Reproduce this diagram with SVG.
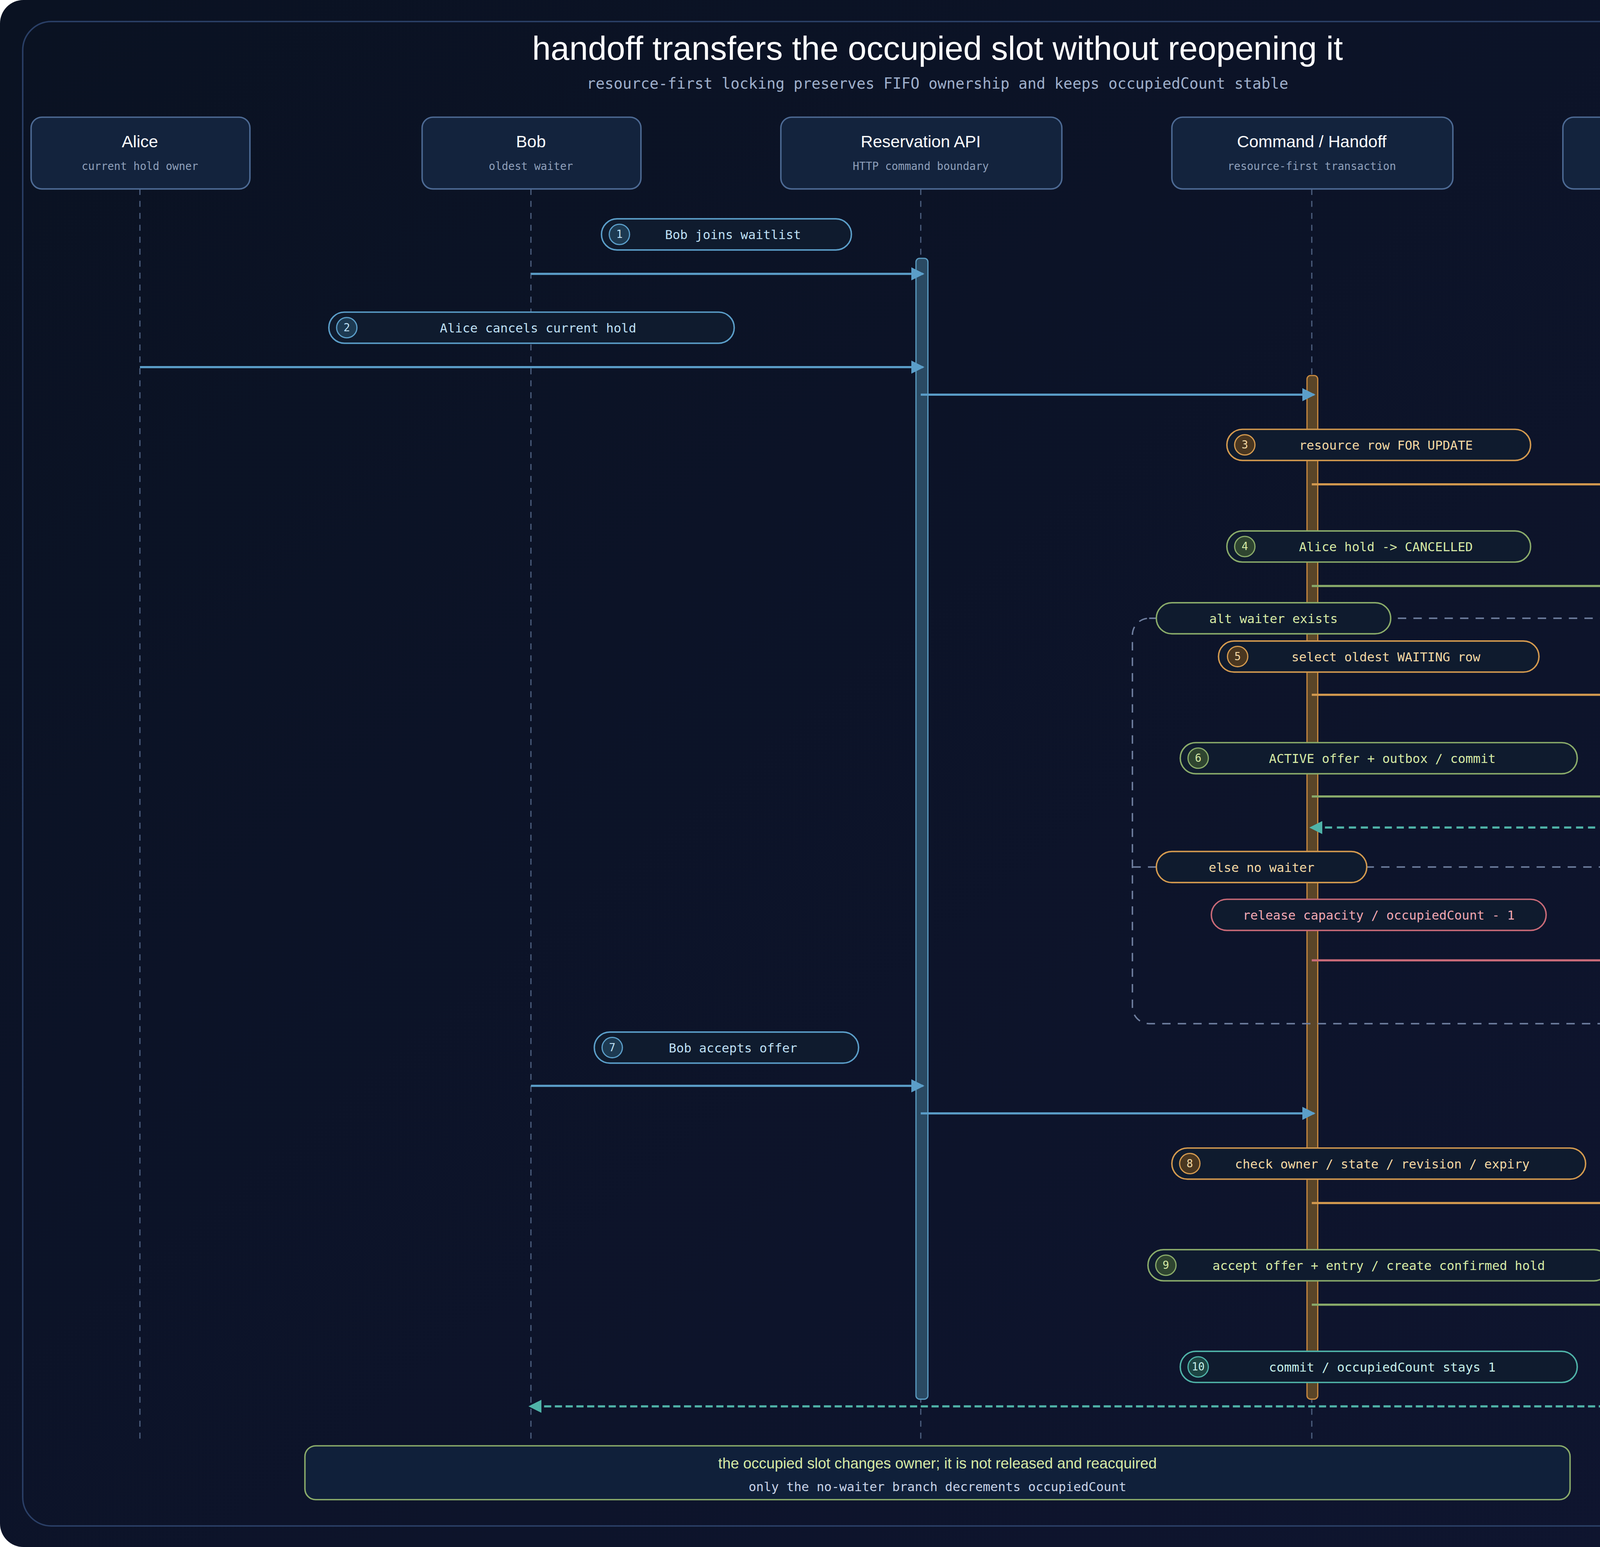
<svg xmlns="http://www.w3.org/2000/svg" width="4800" height="3960" viewBox="0 0 4800 3960">
<defs>
<linearGradient id="bg" x1="0" y1="0" x2="1" y2="1"><stop offset="0" stop-color="#0a1222"/><stop offset="1" stop-color="#0f1530"/></linearGradient>
<marker id="aB" viewBox="0 0 10 10" refX="9" refY="5" markerWidth="11" markerHeight="11" markerUnits="userSpaceOnUse" orient="auto"><path d="M0,0L10,5L0,10z" fill="#5b9ec9"/></marker>
<marker id="aO" viewBox="0 0 10 10" refX="9" refY="5" markerWidth="11" markerHeight="11" markerUnits="userSpaceOnUse" orient="auto"><path d="M0,0L10,5L0,10z" fill="#d49a4f"/></marker>
<marker id="aG" viewBox="0 0 10 10" refX="9" refY="5" markerWidth="11" markerHeight="11" markerUnits="userSpaceOnUse" orient="auto"><path d="M0,0L10,5L0,10z" fill="#8aab6a"/></marker>
<marker id="aP" viewBox="0 0 10 10" refX="9" refY="5" markerWidth="11" markerHeight="11" markerUnits="userSpaceOnUse" orient="auto"><path d="M0,0L10,5L0,10z" fill="#c96a78"/></marker>
<marker id="aT" viewBox="0 0 10 10" refX="9" refY="5" markerWidth="11" markerHeight="11" markerUnits="userSpaceOnUse" orient="auto"><path d="M0,0L10,5L0,10z" fill="#4fb3a8"/></marker>
</defs>
<style>
.hand{font-family:"Liberation Sans","DejaVu Sans",sans-serif}
.mono{font-family:"DejaVu Sans Mono","Liberation Mono",monospace}
.box{fill:#13233d;stroke:#4d6a94;stroke-width:1.2}
.life{stroke:#4d5f7f;stroke-width:1;stroke-dasharray:5 5}
.pill{fill:#0f1b2e;stroke-width:1.2}
.num{font-size:9px;text-anchor:middle}
.lbl{font-size:10.5px;text-anchor:middle}
.msg{stroke-width:1.8;fill:none}
.nm{font-size:14px;fill:#ffffff;text-anchor:middle}
.sub{font-size:9px;fill:#8fa0bb;text-anchor:middle}
</style>
<rect width="4800" height="3960" rx="60" fill="url(#bg)"/>
<g transform="scale(3.0612)">
<rect x="19" y="18" width="1530" height="1258" rx="24" fill="none" stroke="#2a3f66" stroke-width="1.2"/>
<text class="hand" x="784" y="50" font-size="28" fill="#ffffff" text-anchor="middle">handoff transfers the occupied slot without reopening it</text>
<text class="mono" x="784" y="74" font-size="12.5" fill="#9fb0cc" text-anchor="middle">resource-first locking preserves FIFO ownership and keeps occupiedCount stable</text>

<g id="lifelines">
<line class="life" x1="117" y1="158" x2="117" y2="1208"/>
<line class="life" x1="444" y1="158" x2="444" y2="1208"/>
<line class="life" x1="770" y1="158" x2="770" y2="1208"/>
<line class="life" x1="1097" y1="158" x2="1097" y2="1208"/>
<line class="life" x1="1424" y1="158" x2="1424" y2="1208"/>
</g>

<g id="alice"><rect class="box" x="26" y="98" width="183" height="60" rx="9"/><text class="hand nm" x="117" y="123">Alice</text><text class="mono sub" x="117" y="142">current hold owner</text></g>
<g id="bob"><rect class="box" x="353" y="98" width="183" height="60" rx="9"/><text class="hand nm" x="444" y="123">Bob</text><text class="mono sub" x="444" y="142">oldest waiter</text></g>
<g id="api"><rect class="box" x="653" y="98" width="235" height="60" rx="9"/><text class="hand nm" x="770" y="123">Reservation API</text><text class="mono sub" x="770" y="142">HTTP command boundary</text></g>
<g id="cmd"><rect class="box" x="980" y="98" width="235" height="60" rx="9"/><text class="hand nm" x="1097" y="123">Command / Handoff</text><text class="mono sub" x="1097" y="142">resource-first transaction</text></g>
<g id="pg"><rect class="box" x="1307" y="98" width="235" height="60" rx="9"/><text class="hand nm" x="1424" y="123">PostgreSQL</text><text class="mono sub" x="1424" y="142">holds / waitlist / offers</text></g>

<g id="activations">
<rect x="766" y="216" width="10" height="954" rx="3" fill="#2a4a63" stroke="#5a9ac0" stroke-width="1"/>
<rect x="1093" y="314" width="9" height="856" rx="3" fill="#5a4528" stroke="#c98a40" stroke-width="1"/>
<rect x="1419" y="399" width="10" height="771" rx="3" fill="#344f3a" stroke="#88aa66" stroke-width="1"/>
</g>

<g id="frame">
<rect x="947" y="517" width="581" height="339" rx="14" fill="none" stroke="#6f7f9f" stroke-width="1.2" stroke-dasharray="7 6"/>
<line x1="947" y1="725" x2="1528" y2="725" stroke="#6f7f9f" stroke-width="1.2" stroke-dasharray="7 6"/>
<rect class="pill" x="967" y="504" width="196" height="26" rx="13" stroke="#8aab6a"/>
<text class="mono lbl" x="1065" y="521" fill="#d7eaa6">alt waiter exists</text>
<rect class="pill" x="967" y="712" width="176" height="26" rx="13" stroke="#d49a4f"/>
<text class="mono lbl" x="1055" y="729" fill="#f3d9a4">else no waiter</text>
</g>

<g id="connectors">
<line class="msg" x1="444" y1="229" x2="772" y2="229" stroke="#5b9ec9" marker-end="url(#aB)"/>
<line class="msg" x1="117" y1="307" x2="772" y2="307" stroke="#5b9ec9" marker-end="url(#aB)"/>
<line class="msg" x1="770" y1="330" x2="1099" y2="330" stroke="#5b9ec9" marker-end="url(#aB)"/>
<line class="msg" x1="1097" y1="405" x2="1426" y2="405" stroke="#d49a4f" marker-end="url(#aO)"/>
<line class="msg" x1="1097" y1="490" x2="1426" y2="490" stroke="#8aab6a" marker-end="url(#aG)"/>
<line class="msg" x1="1097" y1="581" x2="1426" y2="581" stroke="#d49a4f" marker-end="url(#aO)"/>
<line class="msg" x1="1097" y1="666" x2="1426" y2="666" stroke="#8aab6a" marker-end="url(#aG)"/>
<line class="msg" x1="1424" y1="692" x2="1096" y2="692" stroke="#4fb3a8" stroke-dasharray="6 4" marker-end="url(#aT)"/>
<line class="msg" x1="1097" y1="803" x2="1426" y2="803" stroke="#c96a78" marker-end="url(#aP)"/>
<line class="msg" x1="444" y1="908" x2="772" y2="908" stroke="#5b9ec9" marker-end="url(#aB)"/>
<line class="msg" x1="770" y1="931" x2="1099" y2="931" stroke="#5b9ec9" marker-end="url(#aB)"/>
<line class="msg" x1="1097" y1="1006" x2="1426" y2="1006" stroke="#d49a4f" marker-end="url(#aO)"/>
<line class="msg" x1="1097" y1="1091" x2="1426" y2="1091" stroke="#8aab6a" marker-end="url(#aG)"/>
<line class="msg" x1="1424" y1="1176" x2="443" y2="1176" stroke="#4fb3a8" stroke-dasharray="6 3" marker-end="url(#aT)"/>
</g>

<g id="labels" class="mono">
<g><rect class="pill" x="503" y="183" width="209" height="26" rx="13" stroke="#5b9ec9"/><circle cx="518" cy="196" r="8.5" fill="#1d3a52" stroke="#5b9ec9"/><text class="num" x="518" y="199" fill="#bfe0f5">1</text><text class="lbl" x="613" y="200" fill="#bfe0f5">Bob joins waitlist</text></g>
<g><rect class="pill" x="275" y="261" width="339" height="26" rx="13" stroke="#5b9ec9"/><circle cx="290" cy="274" r="8.5" fill="#1d3a52" stroke="#5b9ec9"/><text class="num" x="290" y="277" fill="#bfe0f5">2</text><text class="lbl" x="450" y="278" fill="#bfe0f5">Alice cancels current hold</text></g>
<g><rect class="pill" x="1026" y="359" width="254" height="26" rx="13" stroke="#d49a4f"/><circle cx="1041" cy="372" r="8.5" fill="#4a3720" stroke="#d49a4f"/><text class="num" x="1041" y="375" fill="#f3d9a4">3</text><text class="lbl" x="1159" y="376" fill="#f3d9a4">resource row FOR UPDATE</text></g>
<g><rect class="pill" x="1026" y="444" width="254" height="26" rx="13" stroke="#8aab6a"/><circle cx="1041" cy="457" r="8.5" fill="#2f4530" stroke="#8aab6a"/><text class="num" x="1041" y="460" fill="#d7eaa6">4</text><text class="lbl" x="1159" y="461" fill="#d7eaa6">Alice hold -&gt; CANCELLED</text></g>
<g><rect class="pill" x="1019" y="536" width="268" height="26" rx="13" stroke="#d49a4f"/><circle cx="1035" cy="549" r="8.5" fill="#4a3720" stroke="#d49a4f"/><text class="num" x="1035" y="552" fill="#f3d9a4">5</text><text class="lbl" x="1159" y="553" fill="#f3d9a4">select oldest WAITING row</text></g>
<g><rect class="pill" x="987" y="621" width="332" height="26" rx="13" stroke="#8aab6a"/><circle cx="1002" cy="634" r="8.5" fill="#2f4530" stroke="#8aab6a"/><text class="num" x="1002" y="637" fill="#d7eaa6">6</text><text class="lbl" x="1156" y="638" fill="#d7eaa6">ACTIVE offer + outbox / commit</text></g>
<g><rect class="pill" x="1013" y="752" width="280" height="26" rx="13" stroke="#c96a78"/><text class="lbl" x="1153" y="769" fill="#f0a8b4">release capacity / occupiedCount - 1</text></g>
<g><rect class="pill" x="497" y="863" width="221" height="26" rx="13" stroke="#5b9ec9"/><circle cx="512" cy="876" r="8.5" fill="#1d3a52" stroke="#5b9ec9"/><text class="num" x="512" y="879" fill="#bfe0f5">7</text><text class="lbl" x="613" y="880" fill="#bfe0f5">Bob accepts offer</text></g>
<g><rect class="pill" x="980" y="960" width="346" height="26" rx="13" stroke="#d49a4f"/><circle cx="995" cy="973" r="8.5" fill="#4a3720" stroke="#d49a4f"/><text class="num" x="995" y="976" fill="#f3d9a4">8</text><text class="lbl" x="1156" y="977" fill="#f3d9a4">check owner / state / revision / expiry</text></g>
<g><rect class="pill" x="960" y="1045" width="386" height="26" rx="13" stroke="#8aab6a"/><circle cx="975" cy="1058" r="8.5" fill="#2f4530" stroke="#8aab6a"/><text class="num" x="975" y="1061" fill="#d7eaa6">9</text><text class="lbl" x="1153" y="1062" fill="#d7eaa6">accept offer + entry / create confirmed hold</text></g>
<g><rect class="pill" x="987" y="1130" width="332" height="26" rx="13" stroke="#4fb3a8"/><circle cx="1002" cy="1143" r="8.5" fill="#1d4543" stroke="#4fb3a8"/><text class="num" x="1002" y="1146" fill="#c6f0ea" font-size="8">10</text><text class="lbl" x="1156" y="1147" fill="#c6f0ea">commit / occupiedCount stays 1</text></g>
</g>

<g id="note">
<rect x="255" y="1209" width="1058" height="45" rx="9" fill="#10203a" stroke="#8aab6a" stroke-width="1.2"/>
<text class="hand" x="784" y="1228" font-size="12.5" fill="#d7eaa6" text-anchor="middle">the occupied slot changes owner; it is not released and reacquired</text>
<text class="mono" x="784" y="1247" font-size="10.5" fill="#c8d4e8" text-anchor="middle">only the no-waiter branch decrements occupiedCount</text>
</g>
</g>
</svg>
